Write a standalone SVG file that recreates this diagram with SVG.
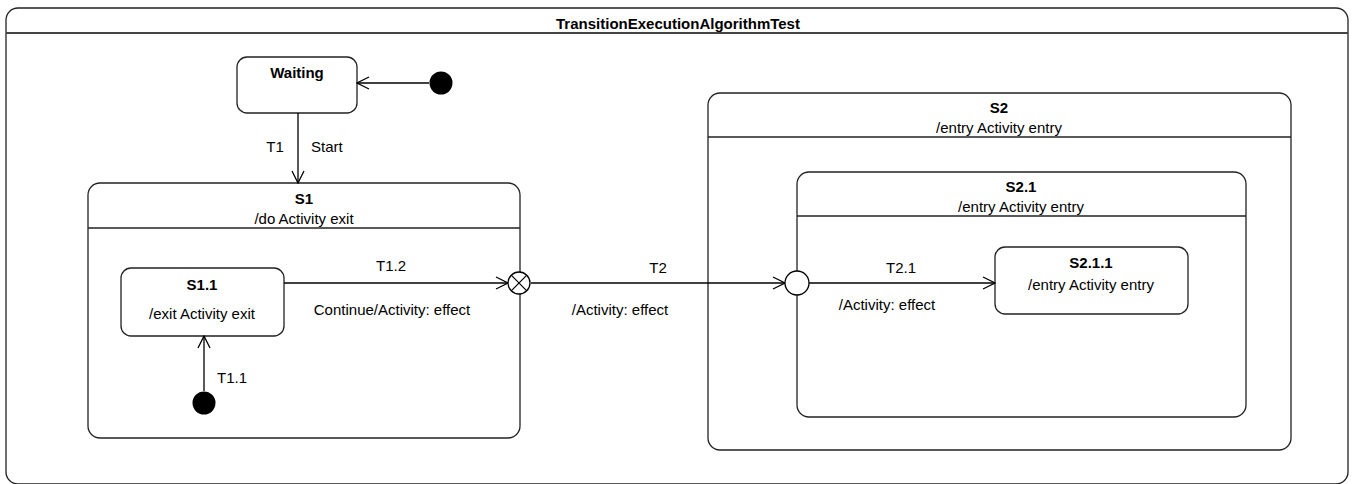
<svg xmlns="http://www.w3.org/2000/svg" width="1355" height="484" viewBox="0 0 1355 484">
<style>
text{font-family:"Liberation Sans",Arial,sans-serif;font-size:15px;fill:#000}
.b{font-weight:bold}
.m{text-anchor:middle}
.st{fill:#fff;stroke:#222;stroke-width:1.3}
.sep{stroke:#222;stroke-width:1.3}
.ln{stroke:#000;stroke-width:1.3;fill:none}
</style>
<defs>
<marker id="open" viewBox="0 0 14 14" refX="13" refY="7" markerWidth="14" markerHeight="14" markerUnits="userSpaceOnUse" orient="auto">
<path d="M1,1 L13,7 L1,13" fill="none" stroke="#000" stroke-width="1.3"/>
</marker>
</defs>
<g id="frame">
<rect class="st" x="6" y="8" width="1342" height="476" rx="12"/>
<line x1="6" y1="33" x2="1348" y2="33" stroke="#444" stroke-width="2"/>
<text class="b m" x="678" y="29">TransitionExecutionAlgorithmTest</text>
</g>
<g id="Waiting">
<rect class="st" x="237" y="57" width="120" height="56" rx="10"/>
<text class="b m" x="297" y="78">Waiting</text>
</g>
<g id="init1"><circle cx="441" cy="83" r="11.5" fill="#000"/></g>
<g id="S1">
<rect class="st" x="88" y="183" width="432" height="255" rx="12"/>
<line class="sep" x1="88" y1="228" x2="520" y2="228"/>
<text class="b m" x="304" y="204">S1</text>
<text class="m" x="304" y="224">/do Activity exit</text>
</g>
<g id="S1_1">
<rect class="st" x="121" y="268" width="163" height="68" rx="10"/>
<text class="b m" x="202" y="290">S1.1</text>
<text class="m" x="202" y="319">/exit Activity exit</text>
</g>
<g id="init2"><circle cx="204" cy="403" r="11.5" fill="#000"/></g>
<g id="S2">
<rect class="st" x="708" y="93" width="583" height="357" rx="12"/>
<line class="sep" x1="708" y1="137" x2="1291" y2="137"/>
<text class="b m" x="999" y="113">S2</text>
<text class="m" x="999" y="133">/entry Activity entry</text>
</g>
<g id="S2_1">
<rect class="st" x="797" y="172" width="449" height="245" rx="12"/>
<line class="sep" x1="797" y1="216" x2="1246" y2="216"/>
<text class="b m" x="1021" y="192">S2.1</text>
<text class="m" x="1021" y="212">/entry Activity entry</text>
</g>
<g id="S2_1_1">
<rect class="st" x="995" y="247" width="193" height="67" rx="10"/>
<text class="b m" x="1091" y="268">S2.1.1</text>
<text class="m" x="1091" y="290">/entry Activity entry</text>
</g>
<g id="connectors">
<line class="ln" x1="429" y1="83" x2="357" y2="83" marker-end="url(#open)"/>
<line class="ln" x1="298" y1="113" x2="298" y2="183" marker-end="url(#open)"/>
<text class="m" x="275" y="152">T1</text>
<text x="311" y="152">Start</text>
<line class="ln" x1="204" y1="391" x2="204" y2="336" marker-end="url(#open)"/>
<text x="217" y="383">T1.1</text>
<line class="ln" x1="284" y1="283" x2="508" y2="283" marker-end="url(#open)"/>
<text class="m" x="391" y="271">T1.2</text>
<text class="m" x="392" y="315">Continue/Activity: effect</text>
<line class="ln" x1="531" y1="283" x2="785" y2="283" marker-end="url(#open)"/>
<text class="m" x="658" y="273">T2</text>
<text class="m" x="620" y="315">/Activity: effect</text>
<line class="ln" x1="809" y1="283" x2="995" y2="283" marker-end="url(#open)"/>
<text class="m" x="901" y="273">T2.1</text>
<text class="m" x="887" y="310">/Activity: effect</text>
</g>
<g id="exitPoint">
<circle cx="519" cy="283" r="11" fill="#fff" stroke="#000" stroke-width="1.3"/>
<path d="M511.2,275.2 L526.8,290.8 M526.8,275.2 L511.2,290.8" stroke="#000" stroke-width="1.2"/>
</g>
<g id="entryPoint">
<circle cx="797" cy="283" r="12" fill="#fff" stroke="#000" stroke-width="1.3"/>
</g>
</svg>
